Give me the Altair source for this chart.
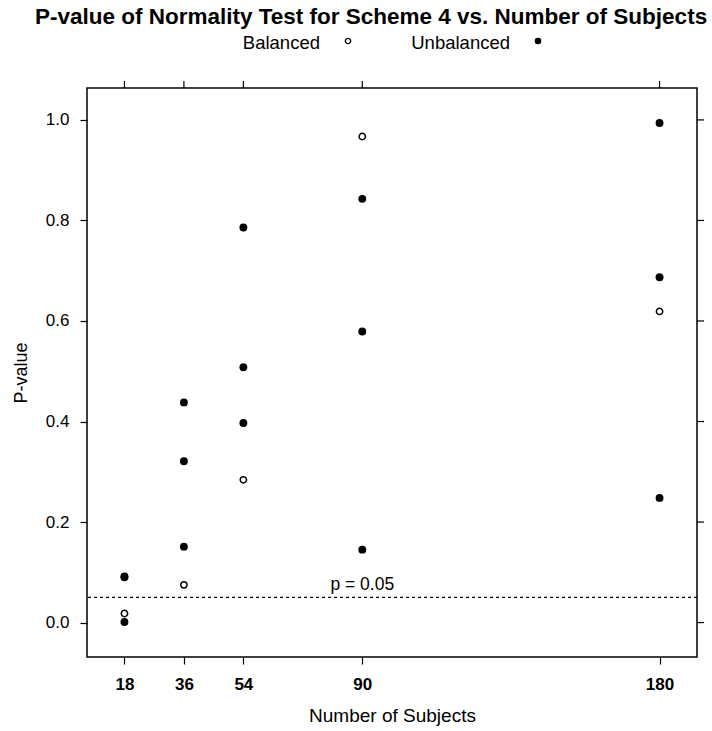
import altair as alt
import pandas as pd

# P-values of the normality test for scheme 4, by number of subjects
subjects = [18, 36, 54, 90, 180]
balanced = [0.018, 0.075, 0.284, 0.967, 0.619]
unbalanced_a = [0.092, 0.438, 0.786, 0.843, 0.994]
unbalanced_b = [0.090, 0.321, 0.508, 0.579, 0.687]
unbalanced_c = [0.001, 0.151, 0.397, 0.145, 0.248]

x_ticks = [18, 36, 54, 90, 180]
y_ticks = [0.0, 0.2, 0.4, 0.6, 0.8, 1.0]
cutoff = 0.05

rows = [{"n": n, "p": p, "design": "Balanced"} for n, p in zip(subjects, balanced)]
for series in (unbalanced_a, unbalanced_b, unbalanced_c):
    rows += [{"n": n, "p": p, "design": "Unbalanced"} for n, p in zip(subjects, series)]
df = pd.DataFrame(rows)

FONT = "Liberation Sans"
W, H = 610, 569
TICK = 7

# lattice-style padding of 7% of the data range on each side
x_lo, x_hi = min(subjects), max(subjects)
x_pad = 0.07 * (x_hi - x_lo)
all_p = df["p"]
y_pad = 0.07 * (all_p.max() - all_p.min())
x_scale = alt.Scale(domain=[x_lo - x_pad, x_hi + x_pad], nice=False, zero=False)
y_scale = alt.Scale(domain=[all_p.min() - y_pad, all_p.max() + y_pad], nice=False, zero=False)

x_axis = alt.Axis(orient="bottom", values=x_ticks, title="Number of Subjects",
                  labelFontWeight="bold", labelFontSize=17, labelPadding=12,
                  titleFontSize=19, titlePadding=14, titleFontWeight="normal")
y_axis = alt.Axis(orient="left", values=y_ticks, format=".1f", title="P-value",
                  labelFontSize=17, labelPadding=11, titleFontSize=18,
                  titlePadding=15, titleFontWeight="normal")
x_enc = alt.X("n:Q", scale=x_scale, axis=x_axis)
y_enc = alt.Y("p:Q", scale=y_scale, axis=y_axis)

base = alt.Chart(df)

open_pts = base.transform_filter(alt.datum.design == "Balanced").mark_point(
    shape="circle", filled=False, color="black", size=40, strokeWidth=1.5, opacity=1
).encode(x=x_enc, y=y_enc)

filled_pts = base.transform_filter(alt.datum.design == "Unbalanced").mark_point(
    shape="circle", filled=True, color="black", size=62, opacity=1
).encode(x=x_enc, y=y_enc)

# unlabelled tick marks on the top and right sides of the panel
top_ticks = alt.Chart(pd.DataFrame({"n": x_ticks})).mark_rule(
    color="black", strokeWidth=1.2
).encode(x=x_enc, y=alt.value(-TICK), y2=alt.value(0))
right_ticks = alt.Chart(pd.DataFrame({"p": y_ticks})).mark_rule(
    color="black", strokeWidth=1.2
).encode(y=y_enc, x=alt.value(W), x2=alt.value(W + TICK))

cut_df = pd.DataFrame({"p": [cutoff], "n": [90], "label": [f"p = {cutoff}"]})
cut_line = alt.Chart(cut_df).mark_rule(
    color="black", strokeDash=[3, 3], strokeWidth=1.2
).encode(y=y_enc)
cut_text = alt.Chart(cut_df).mark_text(
    font=FONT, fontSize=17.5, baseline="alphabetic", align="center", dy=-7, color="black"
).encode(x=x_enc, y=y_enc, text="label:N")

# key above the panel: label followed by its symbol
key_y = -45
key = alt.Chart(pd.DataFrame({"k": [0]}))
key_layers = [
    key.mark_text(font=FONT, fontSize=18.5, align="right", baseline="middle", color="black",
                  text="Balanced").encode(x=alt.value(233), y=alt.value(key_y)),
    key.mark_point(shape="circle", filled=False, color="black", size=28, strokeWidth=1.4,
                   opacity=1).encode(x=alt.value(261), y=alt.value(key_y - 2)),
    key.mark_text(font=FONT, fontSize=18.5, align="right", baseline="middle", color="black",
                  text="Unbalanced").encode(x=alt.value(423), y=alt.value(key_y)),
    key.mark_point(shape="circle", filled=True, color="black", size=44,
                   opacity=1).encode(x=alt.value(451), y=alt.value(key_y - 2)),
]

chart = alt.layer(
    open_pts, filled_pts, top_ticks, right_ticks, cut_line, cut_text, *key_layers
).properties(
    width=W,
    height=H,
    title=alt.TitleParams(
        "P-value of Normality Test for Scheme 4 vs. Number of Subjects",
        font=FONT, fontSize=22.5, fontWeight="bold", anchor="middle",
        baseline="alphabetic", offset=-12, dx=-21, color="black",
    ),
    autosize=alt.AutoSizeParams(type="none"),
    padding={"left": 87, "top": 88, "right": 15, "bottom": 74},
).configure(
    font=FONT,
).configure_view(
    stroke="black", strokeWidth=1.5,
).configure_axis(
    domain=False, grid=False, tickColor="black", tickSize=TICK, tickWidth=1.2,
    labelColor="black", titleColor="black", labelFont=FONT, titleFont=FONT,
)

chart.save("out.html", embed_options={"renderer": "svg", "actions": False})
